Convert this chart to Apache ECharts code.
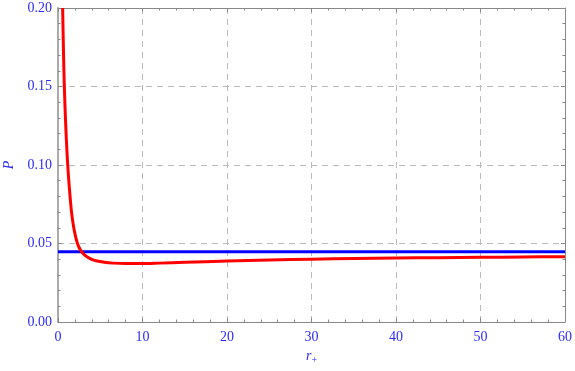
<!DOCTYPE html>
<html>
<head>
<meta charset="utf-8">
<script src="https://cdn.jsdelivr.net/npm/echarts@6/dist/echarts.min.js"></script>
<style>
  html, body { margin: 0; padding: 0; background: #fff; }
  #chart { width: 575px; height: 371px; }
</style>
</head>
<body>
<div id="chart"></div>
<script>
// red curve P(r+)
const rValues = [0.55, 0.62, 0.70, 0.78, 0.88, 1.0, 1.15, 1.35, 1.6, 1.9, 2.3, 2.7, 3.2, 3.8, 4.5, 5.5, 6.5, 8, 10, 12, 15, 20, 25, 30, 35, 40, 45, 50, 55, 60];
const pValues = [0.200, 0.180, 0.160, 0.145, 0.130, 0.115, 0.100, 0.085, 0.070, 0.059, 0.050, 0.0455, 0.0425, 0.0404, 0.0390, 0.0380, 0.0375, 0.0372, 0.0372, 0.0375, 0.0380, 0.0388, 0.0395, 0.0400, 0.0404, 0.0407, 0.0410, 0.0412, 0.0414, 0.0416];
// blue horizontal line
const blueR = [0, 60];
const blueP = [0.0447, 0.0447];

const labelColor = "#2b2bff";
const frameColor = "#888";

const redData = rValues.map((r, i) => [r, pValues[i]]);
const blueData = blueR.map((r, i) => [r, blueP[i]]);

let myChart = echarts.init(document.getElementById("chart"));

const tickStyle = { show: true, inside: true, length: 4, lineStyle: { color: frameColor } };
const minorStyle = { show: true, splitNumber: 5, length: 2.5, lineStyle: { color: frameColor } };

const options = {
  animation: false,
  grid: { left: 58, right: 10, top: 8, bottom: 49, outerBoundsMode: "none", containLabel: false },
  xAxis: [
    {
      type: "value",
      min: 0,
      max: 60,
      interval: 10,
      name: "{i|r}{s|+}",
      nameLocation: "middle",
      nameGap: 16,
      nameTextStyle: {
        rich: {
          i: { fontFamily: "Liberation Serif", fontStyle: "italic", fontSize: 14, color: labelColor },
          s: { fontFamily: "Liberation Serif", fontSize: 10, color: labelColor, padding: [8, 0, 0, 0] },
        },
      },
      axisLine: { show: true, onZero: false, lineStyle: { color: frameColor } },
      axisTick: tickStyle,
      minorTick: minorStyle,
      axisLabel: { color: labelColor, fontFamily: "Liberation Serif", fontSize: 14, margin: 8 },
      splitLine: { show: true, lineStyle: { color: "#bbb", type: [6, 5] } },
    },
    {
      type: "value",
      position: "top",
      min: 0,
      max: 60,
      interval: 10,
      axisLine: { show: true, onZero: false, lineStyle: { color: frameColor } },
      axisTick: tickStyle,
      minorTick: minorStyle,
      axisLabel: { show: false },
      splitLine: { show: false },
    },
  ],
  yAxis: [
    {
      type: "value",
      min: 0,
      max: 0.2,
      interval: 0.05,
      name: "P",
      nameLocation: "middle",
      nameGap: 40,
      nameTextStyle: { fontFamily: "Liberation Serif", fontStyle: "italic", fontSize: 14, color: labelColor },
      axisLine: { show: true, onZero: false, lineStyle: { color: "#aaa", width: 2 } },
      axisTick: tickStyle,
      minorTick: minorStyle,
      axisLabel: {
        color: labelColor,
        fontFamily: "Liberation Serif",
        fontSize: 14,
        margin: 6,
        formatter: (v) => v.toFixed(2),
      },
      splitLine: { show: true, lineStyle: { color: "#bbb", type: [6, 5] } },
    },
    {
      type: "value",
      position: "right",
      min: 0,
      max: 0.2,
      interval: 0.05,
      axisLine: { show: true, onZero: false, lineStyle: { color: frameColor } },
      axisTick: tickStyle,
      minorTick: minorStyle,
      axisLabel: { show: false },
      splitLine: { show: false },
    },
  ],
  series: [
    {
      name: "blue",
      type: "line",
      data: blueData,
      showSymbol: false,
      lineStyle: { color: "#0000ff", width: 3 },
      z: 3,
    },
    {
      name: "red",
      type: "line",
      data: redData,
      showSymbol: false,
      smooth: 0.3,
      clip: true,
      lineStyle: { color: "#ff0000", width: 3 },
      z: 4,
    },
  ],
};

myChart.setOption(options);
</script>
</body>
</html>
